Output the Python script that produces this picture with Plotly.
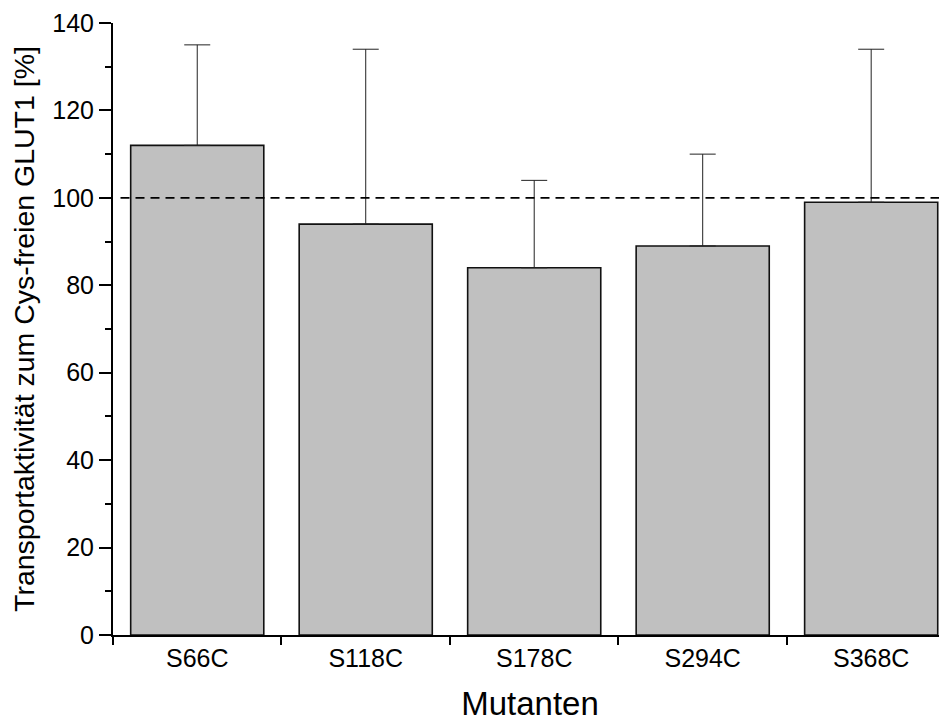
import plotly.graph_objects as go

categories = ["S66C", "S118C", "S178C", "S294C", "S368C"]
values = [112, 94, 84, 89, 99]
errors_plus = [23, 40, 20, 21, 35]
reference_level = 100
y_ticks = [0, 20, 40, 60, 80, 100, 120, 140]

FONT = "Liberation Sans, Arial, sans-serif"

fig = go.Figure()
fig.add_trace(go.Bar(
    x=categories, y=values, width=0.79,
    marker=dict(color="#c0c0c0", line=dict(color="#111111", width=1.6)),
    error_y=dict(type="data", symmetric=False, array=errors_plus,
                 arrayminus=[0] * len(values), color="#222222",
                 thickness=1, width=13),
    showlegend=False,
))

fig.add_shape(type="line", xref="paper", yref="y", x0=0.009, x1=1,
              y0=reference_level, y1=reference_level,
              line=dict(color="black", width=1.6, dash="9px,6px"))

# page body has an 8px margin, so the figure is sized/offset to compensate
fig.update_layout(
    width=939, height=714,
    margin=dict(l=105, r=0, t=15, b=87),
    paper_bgcolor="white", plot_bgcolor="white",
    font=dict(family=FONT, color="black", size=25),
    xaxis=dict(
        type="category", range=[-0.5, 4.45], automargin=False,
        showline=True, linecolor="black", linewidth=2,
        ticks="outside", tickson="boundaries", ticklen=8, tickwidth=1.5,
        tickcolor="black", tickfont=dict(size=25, family=FONT),
        showgrid=False, zeroline=False,
        title=dict(text="Mutanten", font=dict(size=33, family=FONT), standoff=27),
    ),
    xaxis2=dict(
        overlaying="x", anchor="y", range=[-0.5, 4.45], automargin=False,
        tickvals=[-0.5, 0.5, 1.5, 2.5, 3.5], ticks="inside", ticklen=7,
        tickwidth=1.5, tickcolor="black", showticklabels=False,
        showgrid=False, zeroline=False, showline=False,
    ),
    yaxis=dict(
        range=[0, 140], tickvals=y_ticks, automargin=False,
        showline=True, linecolor="black", linewidth=2,
        ticks="outside", ticklen=12, tickwidth=1.5, tickcolor="black",
        minor=dict(dtick=10, ticks="outside", ticklen=6, tickwidth=1.5, tickcolor="black"),
        tickfont=dict(size=25, family=FONT),
        showgrid=False, zeroline=False,
        title=dict(text="Transportaktivität zum Cys-freien GLUT1 [%]",
                   font=dict(size=28.5, family=FONT), standoff=16),
    ),
)

fig.write_html("out.html")
